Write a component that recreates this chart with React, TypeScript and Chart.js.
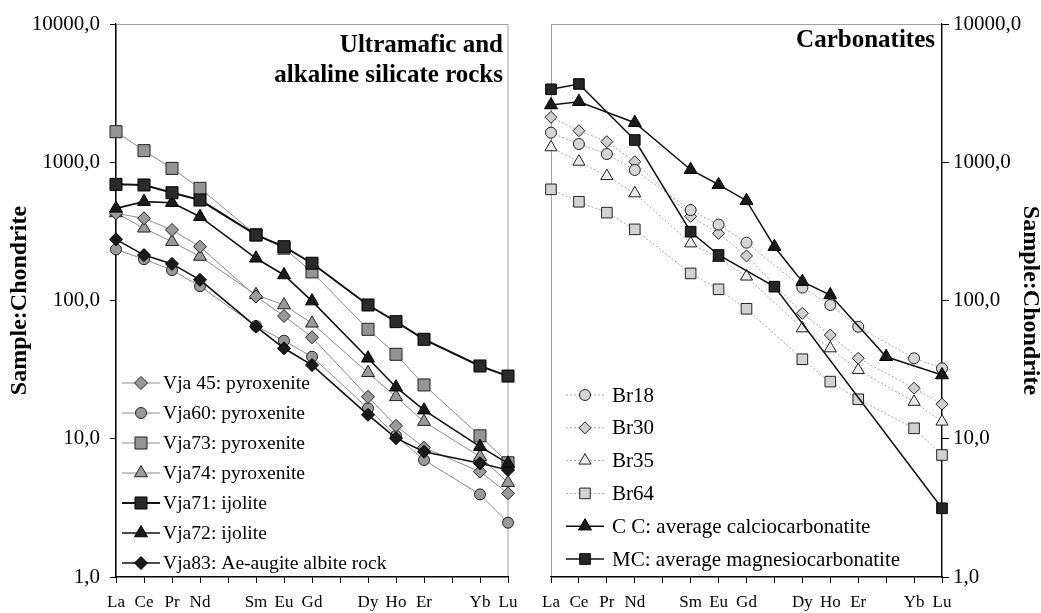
import React, { useEffect, useRef } from 'react';
import { Chart, registerables } from 'chart.js';

Chart.register(...registerables);

// ---------- data ----------
const categories = ['La', 'Ce', 'Pr', 'Nd', '', 'Sm', 'Eu', 'Gd', '', 'Dy', 'Ho', 'Er', '', 'Yb', 'Lu'];
const yTicks = [1, 10, 100, 1000, 10000];
const yTitle = 'Sample:Chondrite';
const leftTitle = ['Ultramafic and', 'alkaline silicate rocks'];
const rightTitle = ['Carbonatites'];

//             La    Ce    Pr    Nd   Pm    Sm    Eu    Gd   Tb    Dy    Ho    Er   Tm    Yb    Lu
const vja45 = [427, 393, 324, 245, null, 107, 77.2, 54.2, null, 20.1, 12.4, 8.62, null, 5.78, 4.03];
const vja60 = [234, 199, 166, 127, null, 65.4, 51.2, 39.2, null, 16.6, 10.5, 7.02, null, 3.96, 2.47];
const vja73 = [1663, 1213, 903, 648, null, 298, 239, 161, null, 61.9, 40.8, 24.5, null, 10.5, 6.7];
const vja74 = [430, 333, 266, 208, null, 110, 92.8, 68.4, null, 30.0, 20.1, 13.3, null, 7.42, 4.81];
const vja71 = [692, 685, 602, 533, null, 298, 245, 186, null, 92.8, 70.3, 52.4, null, 33.6, 28.4];
const vja72 = [464, 519, 510, 404, null, 202, 153, 99, null, 38.2, 23.6, 16.1, null, 8.77, 6.64];
const vja83 = [277, 213, 184, 141, null, 64.7, 45.1, 34.1, null, 14.9, 10.1, 8.06, null, 6.64, 5.94];

const br18 = [1636, 1355, 1147, 879, null, 451, 354, 262, null, 124, 92.8, 64.6, null, 38.2, 32.3];
const br30 = [2114, 1691, 1408, 1009, null, 406, 306, 210, null, 80.8, 56.3, 38.2, null, 23.2, 17.8];
const br35 = [1283, 1009, 795, 596, null, 259, 203, 149, null, 62.9, 45.1, 31.4, null, 18.5, 13.3];
const br64 = [637, 518, 432, 327, null, 157, 120.5, 87.1, null, 37.6, 25.9, 19.3, null, 11.9, 7.63];
const cc = [2595, 2742, null, 1932, null, 883, 688, 527, 245, 136.8, 109.6, null, 39.2, null, 28.9];
const mc = [3371, 3681, null, 1448, null, 314.5, 213.4, null, 125.9, null, null, null, null, null, 3.14];

const leftLabels = [
  'Vja 45: pyroxenite',
  'Vja60: pyroxenite',
  'Vja73: pyroxenite',
  'Vja74: pyroxenite',
  'Vja71: ijolite',
  'Vja72: ijolite',
  'Vja83: Ae-augite albite rock',
];
const rightLabels = [
  'Br18',
  'Br30',
  'Br35',
  'Br64',
  'C C: average calciocarbonatite',
  'MC: average magnesiocarbonatite',
];

// ---------- styles ----------
const FONT = '"Liberation Serif", "Times New Roman", Times, serif';

type Sty = { shape: string; r: number; fill: string; edge: string; ew: number; line: string; lw: number; dash?: number[]; order: number };

const grayLine = '#8c8c8c';
const leftStyles: Sty[] = [
  { shape: 'rectRot', r: 6.5, fill: '#9a9a9a', edge: '#222', ew: 1, line: grayLine, lw: 1, order: 1 },
  { shape: 'circle', r: 5.5, fill: '#9a9a9a', edge: '#222', ew: 1, line: grayLine, lw: 1, order: 1 },
  { shape: 'rect', r: 8.5, fill: '#959595', edge: '#222', ew: 1, line: grayLine, lw: 1, order: 1 },
  { shape: 'triangle', r: 7.5, fill: '#9a9a9a', edge: '#222', ew: 1, line: grayLine, lw: 1, order: 1 },
  { shape: 'rect', r: 8.5, fill: '#2a2a2a', edge: '#000', ew: 1, line: '#111', lw: 2, order: 0 },
  { shape: 'triangle', r: 7.5, fill: '#1a1a1a', edge: '#000', ew: 1, line: '#111', lw: 1.6, order: 0 },
  { shape: 'rectRot', r: 6.5, fill: '#1a1a1a', edge: '#000', ew: 1, line: '#111', lw: 1.6, order: 0 },
];
const dotLine = '#aaaaaa';
const rightStyles: Sty[] = [
  { shape: 'circle', r: 5.5, fill: '#d6d6d6', edge: '#222', ew: 1, line: dotLine, lw: 1, dash: [2, 2], order: 1 },
  { shape: 'rectRot', r: 6, fill: '#cfcfcf', edge: '#222', ew: 1, line: dotLine, lw: 1, dash: [2, 2], order: 1 },
  { shape: 'triangle', r: 7, fill: '#ececec', edge: '#222', ew: 1, line: dotLine, lw: 1, dash: [2, 2], order: 1 },
  { shape: 'rect', r: 7.5, fill: '#d2d2d2', edge: '#222', ew: 1, line: dotLine, lw: 1, dash: [2, 2], order: 1 },
  { shape: 'triangle', r: 7.5, fill: '#1a1a1a', edge: '#000', ew: 1, line: '#111', lw: 1.5, order: 0 },
  { shape: 'rect', r: 7.5, fill: '#262626', edge: '#000', ew: 1, line: '#111', lw: 1.5, order: 0 },
];

function makeDataset(label: string, data: (number | null)[], s: Sty) {
  return {
    label,
    data,
    spanGaps: true,
    tension: 0,
    borderColor: s.line,
    borderWidth: s.lw,
    borderDash: s.dash || [],
    pointStyle: s.shape,
    pointRadius: s.r,
    pointHoverRadius: s.r,
    pointBackgroundColor: s.fill,
    pointBorderColor: s.edge,
    pointBorderWidth: s.ew,
    order: s.order,
    _sty: s,
  };
}

function drawMarker(ctx: CanvasRenderingContext2D, s: Sty, x: number, y: number) {
  const r = s.r;
  ctx.beginPath();
  if (s.shape === 'circle') {
    ctx.arc(x, y, r, 0, Math.PI * 2);
  } else if (s.shape === 'rect') {
    const h = r * Math.SQRT1_2;
    ctx.rect(x - h, y - h, 2 * h, 2 * h);
  } else if (s.shape === 'rectRot') {
    ctx.moveTo(x - r, y);
    ctx.lineTo(x, y - r);
    ctx.lineTo(x + r, y);
    ctx.lineTo(x, y + r);
    ctx.closePath();
  } else if (s.shape === 'triangle') {
    const T = (2 * Math.PI) / 3;
    ctx.moveTo(x, y - r);
    ctx.lineTo(x + Math.sin(T) * r, y - Math.cos(T) * r);
    ctx.lineTo(x + Math.sin(2 * T) * r, y - Math.cos(2 * T) * r);
    ctx.closePath();
  }
  ctx.fillStyle = s.fill;
  ctx.strokeStyle = s.edge;
  ctx.lineWidth = s.ew;
  ctx.setLineDash([]);
  ctx.fill();
  ctx.stroke();
}

const decoPlugin = {
  id: 'deco',
  beforeDraw(chart: any) {
    const { ctx, chartArea: a } = chart;
    ctx.save();
    ctx.strokeStyle = '#a0a0a0';
    ctx.lineWidth = 1;
    ctx.strokeRect(a.left + 0.5, a.top + 0.5, a.right - a.left - 0.5, a.bottom - a.top);
    ctx.restore();
  },
  afterDatasetsDraw(chart: any, _args: any, opts: any) {
    const { ctx, chartArea: a } = chart;
    ctx.save();
    // panel title
    ctx.fillStyle = '#000';
    ctx.font = `bold 25px ${FONT}`;
    ctx.textAlign = 'right';
    ctx.textBaseline = 'alphabetic';
    opts.title.forEach((t: string, i: number) => {
      ctx.fillText(t, a.right - opts.titleInset, opts.titleBase + i * opts.titleStep);
    });
    // legend
    const lx = a.left + opts.legendX;
    chart.data.datasets.forEach((d: any, i: number) => {
      const s: Sty = d._sty;
      const y = opts.legendY + i * opts.legendStep;
      ctx.beginPath();
      ctx.strokeStyle = s.line;
      ctx.lineWidth = s.lw;
      ctx.setLineDash(s.dash || []);
      ctx.moveTo(lx, y);
      ctx.lineTo(lx + 38, y);
      ctx.stroke();
      drawMarker(ctx, s, lx + 19, y);
      ctx.fillStyle = '#000';
      ctx.font = `${opts.legendFont}px ${FONT}`;
      ctx.textAlign = 'left';
      ctx.textBaseline = 'middle';
      ctx.fillText(d.label, lx + opts.legendText, y + 1);
    });
    ctx.restore();
  },
};

function yScale(side: 'left' | 'right') {
  return {
    type: 'logarithmic',
    position: side,
    min: 1,
    max: 10000,
    afterBuildTicks: (s: any) => {
      s.ticks = yTicks.map((v) => ({ value: v }));
    },
    afterFit: (s: any) => {
      s.width = side === 'left' ? 116 : 99;
      s.paddingTop = 0;
      s.paddingBottom = 0;
    },
    ticks: {
      autoSkip: false,
      color: '#000',
      font: { family: FONT, size: 21 },
      padding: side === 'left' ? 10 : 4,
      callback: (v: any) => Number(v).toFixed(1).replace('.', ','),
    },
    grid: {
      display: true,
      drawOnChartArea: false,
      drawTicks: true,
      tickLength: side === 'left' ? 6 : 7,
      color: '#000',
      lineWidth: 1,
    },
    border: { display: true, color: '#000', width: 1.3 },
    title: {
      display: true,
      text: yTitle,
      color: '#000',
      font: { family: FONT, size: 24, weight: 'bold', lineHeight: 0.9 },
      padding: { top: side === 'left' ? 9 : 0, bottom: 0 },
    },
  };
}

function xScale() {
  return {
    type: 'category',
    offset: false,
    afterFit: (s: any) => {
      s.height = 36;
      s.paddingLeft = 0;
      s.paddingRight = 0;
    },
    ticks: {
      autoSkip: false,
      maxRotation: 0,
      minRotation: 0,
      color: '#000',
      font: { family: FONT, size: 17 },
      padding: 9,
    },
    grid: {
      display: true,
      drawOnChartArea: false,
      drawTicks: true,
      tickLength: 6,
      color: '#000',
      offset: false,
    },
    border: { display: true, color: '#000', width: 1.3 },
  };
}

function makeConfig(side: 'left' | 'right'): any {
  const isLeft = side === 'left';
  const series = isLeft
    ? [vja45, vja60, vja73, vja74, vja71, vja72, vja83]
    : [br18, br30, br35, br64, cc, mc];
  const labels = isLeft ? leftLabels : rightLabels;
  const styles = isLeft ? leftStyles : rightStyles;
  return {
    type: 'line',
    data: {
      labels: categories,
      datasets: series.map((d, i) => makeDataset(labels[i], d, styles[i])),
    },
    plugins: [decoPlugin],
    options: {
      animation: false,
      responsive: false,
      devicePixelRatio: 1,
      events: [],
      layout: {
        padding: isLeft ? { left: 0, top: 24, right: 12, bottom: 0 } : { left: 31, top: 24, right: 0, bottom: 0 },
      },
      scales: {
        x: xScale(),
        y: yScale(side),
      },
      plugins: {
        legend: { display: false },
        tooltip: { enabled: false },
        title: { display: false },
        deco: isLeft
          ? { title: leftTitle, titleInset: 5, titleBase: 52, titleStep: 30, legendX: 6, legendY: 383, legendStep: 30, legendFont: 19.6, legendText: 41 }
          : { title: rightTitle, titleInset: 7, titleBase: 47, titleStep: 30, legendX: 15, legendY: 395, legendStep: 32.8, legendFont: 21, legendText: 46 },
      },
    },
  };
}

export default function App() {
  const leftRef = useRef<HTMLCanvasElement>(null);
  const rightRef = useRef<HTMLCanvasElement>(null);
  useEffect(() => {
    const c1 = new Chart(leftRef.current as HTMLCanvasElement, makeConfig('left'));
    const c2 = new Chart(rightRef.current as HTMLCanvasElement, makeConfig('right'));
    return () => {
      c1.destroy();
      c2.destroy();
    };
  }, []);
  return (
    <div style={{ position: 'absolute', left: 0, top: 0, width: 1041, height: 613, background: '#fff' }}>
      <canvas ref={leftRef} width={520} height={613} style={{ position: 'absolute', left: 0, top: 0, width: 520, height: 613 }} />
      <canvas ref={rightRef} width={521} height={613} style={{ position: 'absolute', left: 520, top: 0, width: 521, height: 613 }} />
    </div>
  );
}
